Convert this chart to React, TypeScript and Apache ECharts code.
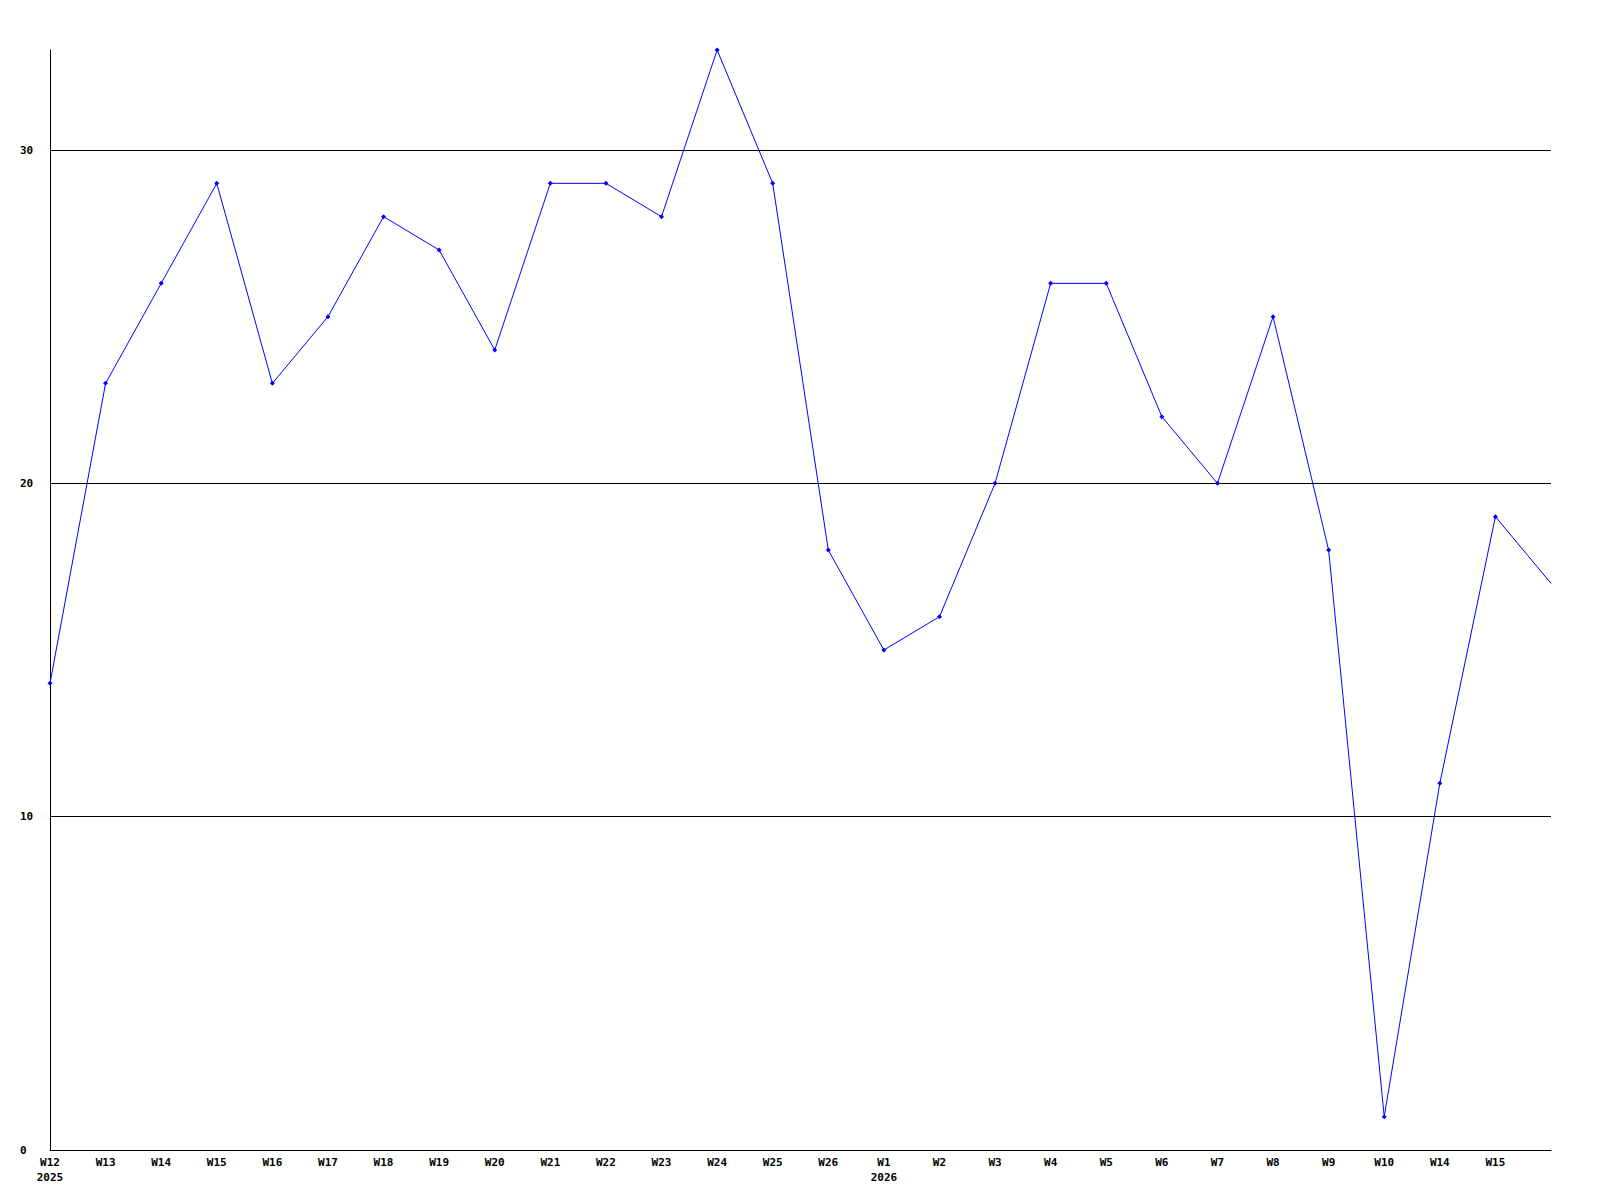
import React, { useEffect, useRef } from "react";
import * as echarts from "echarts";

const weekLabels = [
  "W12\n2025", "W13", "W14", "W15", "W16", "W17", "W18", "W19", "W20", "W21",
  "W22", "W23", "W24", "W25", "W26", "W1\n2026", "W2", "W3", "W4", "W5",
  "W6", "W7", "W8", "W9", "W10", "W14", "W15", "",
];
const counts = [
  14, 23, 26, 29, 23, 25, 28, 27, 24, 29,
  29, 28, 33, 29, 18, 15, 16, 20, 26, 26,
  22, 20, 25, 18, 1, 11, 19, 17,
];
const yMin = 0;
const yMax = 33;
const yInterval = 10;

const FONT = "'DejaVu Sans Mono', 'Liberation Mono', monospace";

export default function App() {
  const ref = useRef<HTMLDivElement>(null);
  useEffect(() => {
    if (!ref.current) return;
    const chart = echarts.init(ref.current, undefined, { renderer: "svg" });
    const seriesData = counts.map((v, i) =>
      i === counts.length - 1 ? { value: v, symbol: "none" } : v
    );
    chart.setOption({
      animation: false,
      backgroundColor: "#ffffff",
      grid: { left: 50, right: 49, top: 50, bottom: 50, containLabel: false },
      xAxis: {
        type: "category",
        data: weekLabels,
        boundaryGap: false,
        axisLine: { lineStyle: { color: "#000", width: 1 } },
        axisTick: { show: false },
        axisLabel: {
          interval: 0,
          margin: 5,
          color: "#000",
          fontFamily: FONT,
          fontWeight: "bold",
          fontSize: 11,
          lineHeight: 15,
          verticalAlign: "top",
        },
        splitLine: { show: false },
      },
      yAxis: {
        type: "value",
        min: yMin,
        max: yMax,
        interval: yInterval,
        axisLine: { show: true, lineStyle: { color: "#000", width: 1 } },
        axisTick: { show: false },
        axisLabel: {
          align: "left",
          margin: 30,
          color: "#000",
          fontFamily: FONT,
          fontWeight: "bold",
          fontSize: 11,
          showMaxLabel: false,
        },
        splitLine: {
          show: true,
          showMinLine: false,
          showMaxLine: false,
          lineStyle: { color: "#000", width: 1 },
        },
      },
      series: [
        {
          type: "line",
          data: seriesData,
          symbol: "diamond",
          symbolSize: 5,
          showAllSymbol: true,
          lineStyle: { color: "#0000ff", width: 1 },
          itemStyle: { color: "#0000ff" },
        },
      ],
    });
    return () => chart.dispose();
  }, []);
  return <div ref={ref} style={{ width: 1600, height: 1200, margin: -8 }} />;
}
